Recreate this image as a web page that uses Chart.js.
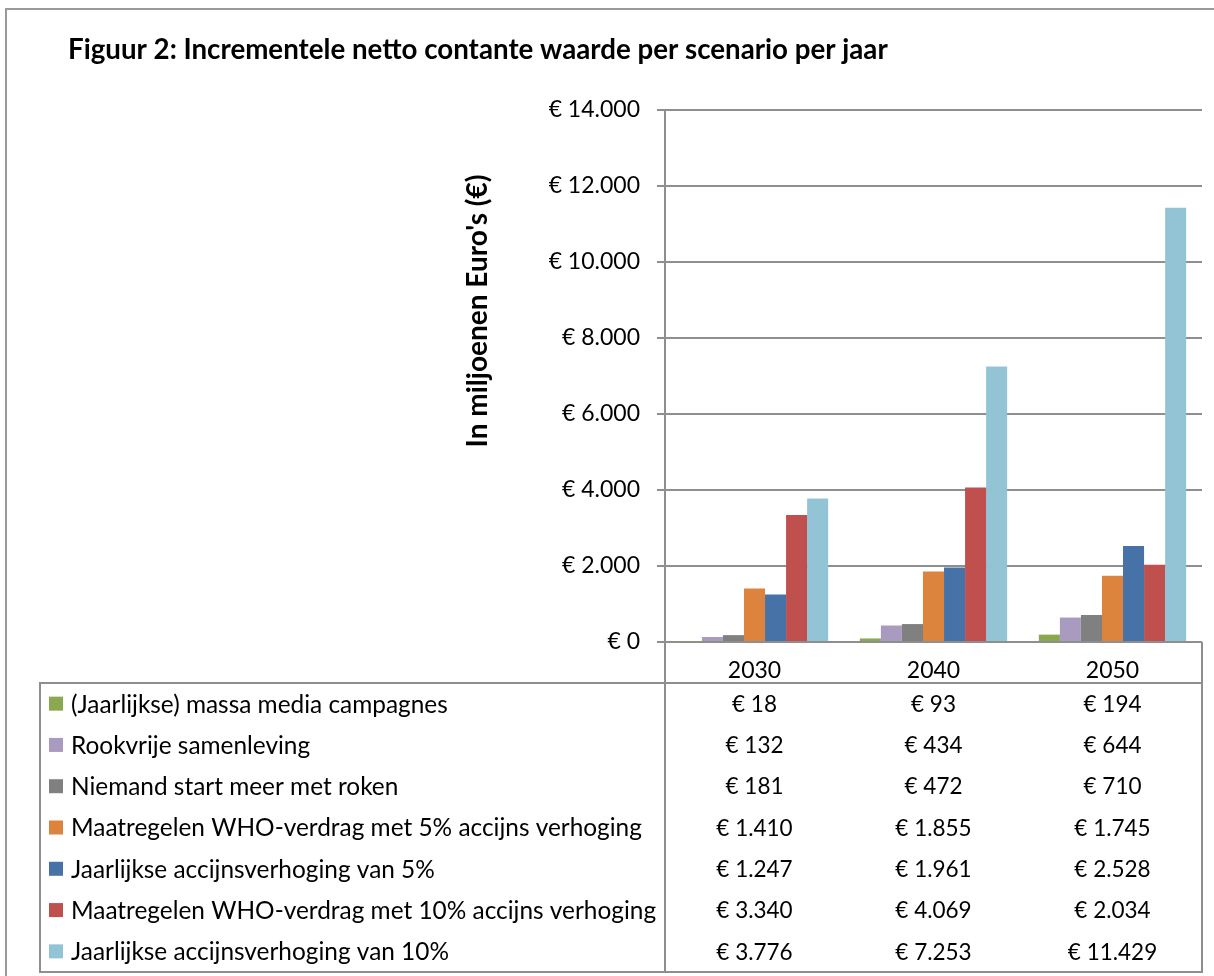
<!DOCTYPE html>
<html>
<head>
<meta charset="utf-8">
<title>Incrementele netto contante waarde per scenario per jaar</title>
<style>
  html, body { margin: 0; padding: 0; background: #fff; }
  #grafiek { display: block; }
</style>
</head>
<body>
<canvas id="grafiek" width="1214" height="976"></canvas>
<script src="https://cdn.jsdelivr.net/npm/chart.js@4"></script>
<script>
// Jaren op de x-as
const jaren = ['2030', '2040', '2050'];

// Scenario's (legenda) en waarden in miljoenen euro's per jaar
const scenarios = [
    '(Jaarlijkse) massa media campagnes',
    'Rookvrije samenleving',
    'Niemand start meer met roken',
    'Maatregelen WHO-verdrag met 5% accijns verhoging',
    'Jaarlijkse accijnsverhoging van 5%',
    'Maatregelen WHO-verdrag met 10% accijns verhoging',
    'Jaarlijkse accijnsverhoging van 10%'
];
const massaMedia   = [18, 93, 194];
const rookvrij     = [132, 434, 644];
const niemand      = [181, 472, 710];
const who5         = [1410, 1855, 1745];
const accijns5     = [1247, 1961, 2528];
const who10        = [3340, 4069, 2034];
const accijns10    = [3776, 7253, 11429];

// y-as: 0 t/m 14.000 in stappen van 2.000
const yMax = 14000;
const yStap = 2000;

const titel = 'Figuur 2: Incrementele netto contante waarde per scenario per jaar';
const asTitel = "In miljoenen Euro's (€)";

const kleuren = ['#8aa84e', '#a99bbf', '#808080', '#dc843e', '#4672a8', '#c0504e', '#93c4d6'];
const lijnKleur = '#8e8e8e';
const lettertype = 'Lato';

// 14000 -> "€ 14.000"
function euro(v) {
    return '€ ' + String(v).replace(/\B(?=(\d{3})+(?!\d))/g, '.');
}

const reeksen = [massaMedia, rookvrij, niemand, who5, accijns5, who10, accijns10];

// Achtergrond en kader om de figuur
const kaderPlugin = {
    id: 'kader',
    beforeDraw(chart) {
        const ctx = chart.ctx;
        ctx.save();
        ctx.fillStyle = '#fff';
        ctx.fillRect(0, 0, chart.width, chart.height);
        ctx.strokeStyle = '#9a9a9a';
        ctx.lineWidth = 2;
        ctx.strokeRect(6, 9, chart.width + 50, chart.height + 50);
        ctx.restore();
    }
};

// Titel, as-titel en de datatabel onder de grafiek
const tabelPlugin = {
    id: 'datatabel',
    afterDraw(chart) {
        const ctx = chart.ctx;
        const area = chart.chartArea;
        const xas = chart.scales.x;
        const links = 40;
        const rechts = area.right;
        const kopOnder = xas.bottom;
        const onder = 972;
        const sets = chart.data.datasets;
        const rij = (onder - kopOnder) / sets.length;

        ctx.save();
        // titel
        ctx.fillStyle = '#000';
        ctx.textBaseline = 'middle';
        ctx.textAlign = 'left';
        ctx.font = 'bold 27.7px ' + lettertype;
        ctx.fillText(titel, 68, 50);

        // as-titel, verticaal
        ctx.save();
        ctx.translate(478, 311);
        ctx.rotate(-Math.PI / 2);
        ctx.textAlign = 'center';
        ctx.font = 'bold 28px ' + lettertype;
        ctx.fillText(asTitel, 0, 0);
        ctx.restore();

        // lijnen van de tabel
        ctx.strokeStyle = lijnKleur;
        ctx.lineWidth = 2;
        ctx.beginPath();
        ctx.moveTo(rechts, area.bottom);
        ctx.lineTo(rechts, onder);
        ctx.lineTo(links, onder);
        ctx.lineTo(links, kopOnder);
        ctx.lineTo(rechts, kopOnder);
        ctx.moveTo(area.left, area.bottom);
        ctx.lineTo(area.left, onder);
        ctx.stroke();

        // rijen: legendablokje, naam en waarden
        sets.forEach((ds, i) => {
            const y = kopOnder + rij * (i + 0.5);
            ctx.fillStyle = ds.backgroundColor;
            ctx.fillRect(49, y - 7, 14, 14);
            ctx.fillStyle = '#000';
            ctx.textAlign = 'left';
            ctx.font = '24.4px ' + lettertype;
            ctx.fillText(ds.label, 71, y + 1);
            ctx.textAlign = 'center';
            ctx.font = '22.5px ' + lettertype;
            ds.data.forEach((v, j) => {
                ctx.fillText(euro(v), xas.getPixelForValue(j), y + 1);
            });
        });
        ctx.restore();
    }
};

const ctx = document.getElementById('grafiek').getContext('2d');
const grafiek = new Chart(ctx, {
    type: 'bar',
    data: {
        labels: jaren,
        datasets: scenarios.map((naam, i) => ({
            label: naam,
            data: reeksen[i],
            backgroundColor: kleuren[i],
            borderWidth: 0,
            categoryPercentage: 0.823,
            barPercentage: 1.0
        }))
    },
    options: {
        responsive: false,
        animation: false,
        devicePixelRatio: 1,
        layout: {
            padding: { left: 0, top: 110, right: 12, bottom: 293 }
        },
        plugins: {
            legend: { display: false },
            tooltip: { enabled: false },
            title: { display: false }
        },
        scales: {
            x: {
                grid: { display: false },
                border: { display: false },
                ticks: {
                    color: '#000',
                    padding: 7,
                    font: { family: lettertype, size: 23 }
                },
                afterFit(scale) { scale.height = 41; }
            },
            y: {
                min: 0,
                max: yMax,
                grid: {
                    color: lijnKleur,
                    lineWidth: 2,
                    tickLength: 8
                },
                border: { color: lijnKleur, width: 2 },
                ticks: {
                    stepSize: yStap,
                    color: '#000',
                    padding: 17,
                    font: { family: lettertype, size: 23 },
                    callback: (v) => euro(v)
                },
                afterFit(scale) { scale.width = 665; }
            }
        }
    },
    plugins: [kaderPlugin, tabelPlugin]
});
</script>
</body>
</html>
